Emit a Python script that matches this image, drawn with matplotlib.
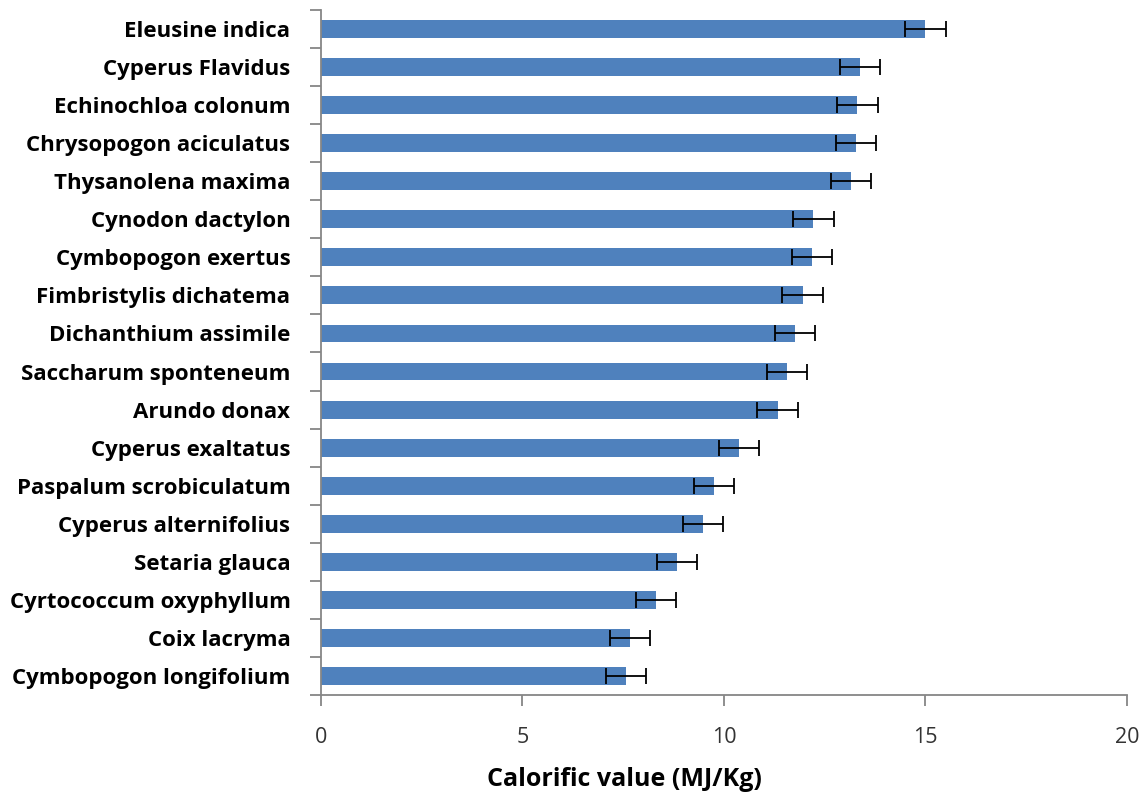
import matplotlib.pyplot as plt
import numpy as np

# species, listed top to bottom
species = [
    "Eleusine indica",
    "Cyperus Flavidus",
    "Echinochloa colonum",
    "Chrysopogon aciculatus",
    "Thysanolena maxima",
    "Cynodon dactylon",
    "Cymbopogon exertus",
    "Fimbristylis dichatema",
    "Dichanthium assimile",
    "Saccharum sponteneum",
    "Arundo donax",
    "Cyperus exaltatus",
    "Paspalum scrobiculatum",
    "Cyperus alternifolius",
    "Setaria glauca",
    "Cyrtococcum oxyphyllum",
    "Coix lacryma",
    "Cymbopogon longifolium",
]
calorific = [15.0, 13.38, 13.31, 13.27, 13.15, 12.22, 12.18, 11.95, 11.76,
             11.57, 11.33, 10.37, 9.76, 9.48, 8.84, 8.32, 7.66, 7.56]
sd = [0.52, 0.5, 0.5, 0.5, 0.5, 0.5, 0.5, 0.5, 0.5,
      0.5, 0.5, 0.5, 0.5, 0.5, 0.5, 0.5, 0.5, 0.5]

bar_color = "#4f81bd"
axis_color = "#868686"
plt.rcParams["font.family"] = ["Open Sans", "DejaVu Sans"]

fig = plt.figure(figsize=(11.48, 7.94), dpi=100)
ax = fig.add_axes([0.2796, 0.1247, 0.7021, 0.8627])

y = np.arange(len(species))[::-1]
ax.barh(y, calorific, height=0.47, color=bar_color, zorder=2)
ax.errorbar(calorific, y, xerr=sd, fmt="none", ecolor="black",
            elinewidth=1.3, capsize=6, capthick=1.3, zorder=3)

ax.set_xlim(0, 20)
ax.set_ylim(-0.5, len(species) - 0.5)
ax.set_xticks([0, 5, 10, 15, 20])
ax.set_yticks(y)
ax.set_yticklabels(species, fontsize=16, fontweight="bold", color="black")
ax.set_yticks(np.arange(len(species) + 1) - 0.5, minor=True)

ax.tick_params(axis="y", which="major", length=0, pad=22)
ax.tick_params(axis="y", which="minor", length=8, width=1.3, color=axis_color)
ax.tick_params(axis="x", which="major", length=8, width=1.3, color=axis_color,
               labelsize=15.5, labelcolor="#333333", pad=15)

for side in ("top", "right"):
    ax.spines[side].set_visible(False)
for side in ("left", "bottom"):
    ax.spines[side].set_color(axis_color)
    ax.spines[side].set_linewidth(1.3)

fig.text(624 / 1148, 1 - 786 / 794, "Calorific value (MJ/Kg)", fontsize=18,
         fontweight="bold", ha="center", va="baseline")

fig.savefig("out.png", dpi=100)
